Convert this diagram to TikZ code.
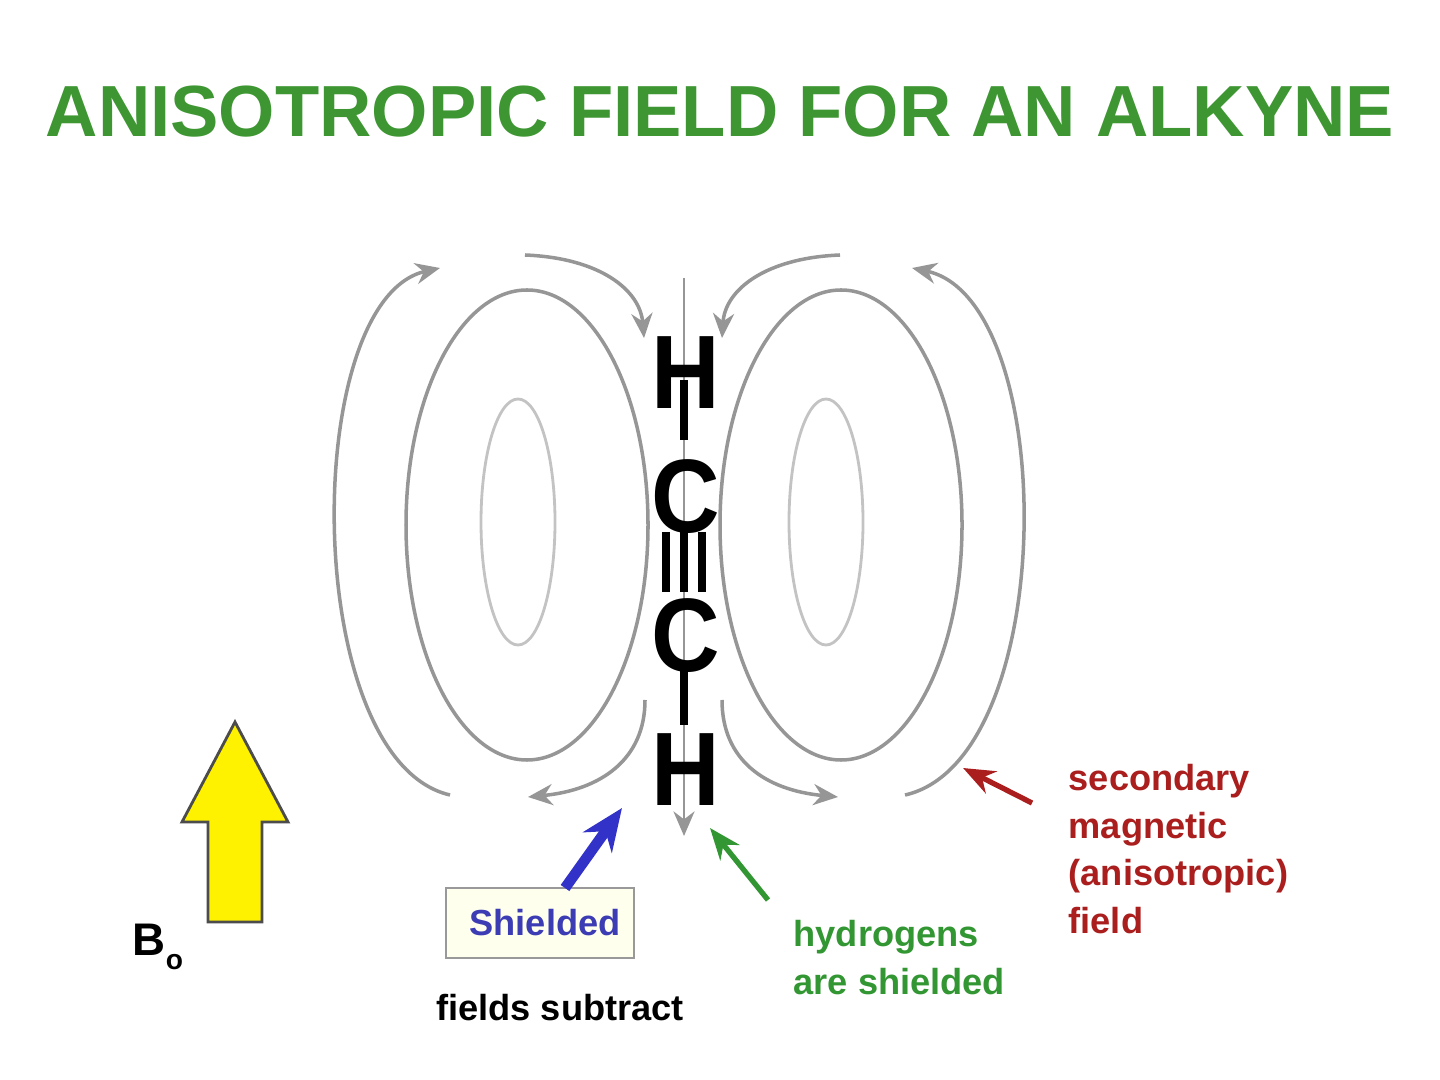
\documentclass[tikz,border=0pt]{standalone}
\usepackage{fontspec}
\setmainfont{Liberation Sans}
\usetikzlibrary{arrows.meta}
\definecolor{ttl}{RGB}{62,150,50}
\definecolor{fl}{RGB}{150,150,150}
\definecolor{fl2}{RGB}{195,195,195}
\definecolor{dred}{RGB}{170,30,30}
\definecolor{bl}{RGB}{50,50,200}
\definecolor{gr}{RGB}{50,150,50}
\definecolor{cream}{RGB}{255,255,238}
\tikzset{fld/.style={draw=fl,line width=1pt},
 fa/.style={fld,-{Stealth[length=7pt,width=6pt]}},
 atom/.style={font=\bfseries\fontsize{27}{27}\selectfont,inner sep=0pt,yscale=1.1},
 bond/.style={line width=2pt},
 lab/.style={font=\bfseries\fontsize{10.3}{13.5}\selectfont,inner sep=0pt}}
\begin{document}
\begin{tikzpicture}[x=0.01cm,y=-0.01cm]
\useasboundingbox (0,0) rectangle (1440,1080);
\node[font=\bfseries\fontsize{20.6}{20.6}\selectfont,text=ttl] (title) at (720,112) {ANISOTROPIC FIELD FOR AN ALKYNE};
% left field
\draw[fld] (527,525) ellipse (121 and 235);
\draw[draw=fl2,line width=0.8pt] (518,522) ellipse (37 and 123);
\draw[fa] (450,795) .. controls (300,760) and (300,300) .. (440,268);
\draw[fa] (525,255) .. controls (600,258) and (640,290) .. (644,338);
\draw[fa] (645,700) .. controls (645,760) and (600,790) .. (528,797);
% right field
\draw[fld] (841,525) ellipse (121 and 235);
\draw[draw=fl2,line width=0.8pt] (826,522) ellipse (37 and 123);
\draw[fa] (905,795) .. controls (1060,760) and (1060,300) .. (912,268);
\draw[fa] (840,255) .. controls (765,258) and (725,290) .. (722,338);
\draw[fa] (722,700) .. controls (722,760) and (765,790) .. (838,797);
% axis
\coordinate (at) at (684,278); \coordinate (ab) at (684,836);
\draw[fa,line width=0.8pt] (at) -- (ab);
% molecule
\node[atom] (h1) at (686,373) {H};
\node[atom] (c1) at (686,497) {C};
\node[atom] (c2) at (686,636) {C};
\node[atom] (h2) at (686,770) {H};
\draw[bond] (684,380) -- (684,440);
\draw[bond] (684,532) -- (684,592);
\draw[bond] (666,532) -- (666,592);
\draw[bond] (702,532) -- (702,592);
\draw[bond] (684,668) -- (684,725);
% B0 arrow
\draw[fill=yellow,draw=black!70,line width=0.8pt] (208,922) -- (208,822) -- (182,822) -- (235,722) -- (288,822) -- (262,822) -- (262,922) -- cycle;
\node[lab,font=\bfseries\fontsize{13}{13}\selectfont] (b0) at (158,947) {B\raisebox{-0.6ex}{\fontsize{8}{8}\selectfont o}};
% shielded
\node[draw=black!40,fill=cream,minimum width=188*0.01cm,minimum height=70*0.01cm,inner sep=0pt,text={rgb,255:red,60;green,60;blue,180},font=\bfseries\fontsize{10.3}{10}\selectfont] (sh) at (540,923) {\hspace*{0.1cm}Shielded};
\coordinate (bs) at (565,888); \coordinate (be) at (622,808);
\draw[bl,line width=3pt,-{Stealth[length=12pt,width=10pt]}] (bs) -- (be);
\node[lab] (fs) at (560,1008) {fields subtract};
% hydrogens
\coordinate (gs) at (768,900); \coordinate (ge) at (710,828);
\draw[gr,line width=1.5pt,-{Stealth[length=9pt,width=7pt]}] (gs) -- (ge);
\node[lab,text=gr,align=left,anchor=north west] (hy) at (793,920) {hydrogens\\are shielded};
% secondary
\coordinate (rs) at (1032,803); \coordinate (re) at (963,768);
\draw[dred,line width=1.5pt,-{Stealth[length=9pt,width=7pt]}] (rs) -- (re);
\node[lab,text=dred,align=left,anchor=north west] (sec) at (1068,764) {secondary\\magnetic\\(anisotropic)\\field};
\end{tikzpicture}
\end{document}
